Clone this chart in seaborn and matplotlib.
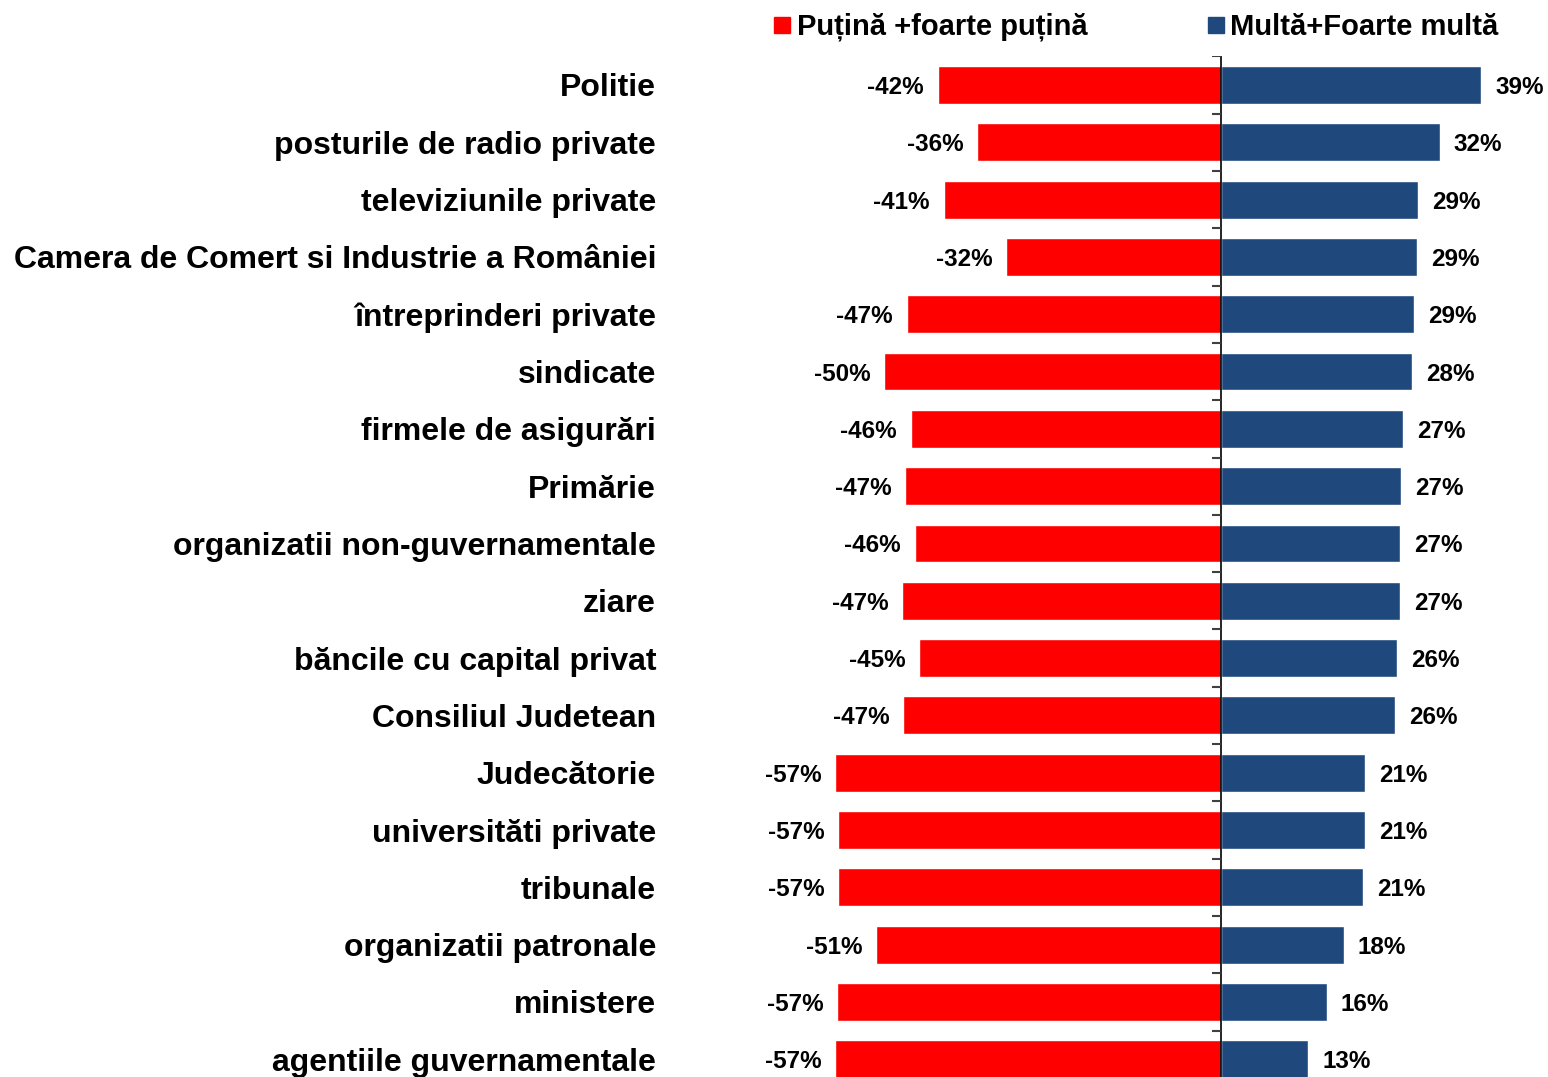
import numpy as np
import pandas as pd
import matplotlib
matplotlib.use("Agg")
import matplotlib.pyplot as plt
from matplotlib.lines import Line2D
import seaborn as sns

# Trust in institutions: share answering little vs. much
categories = [
    "Politie", "posturile de radio private", "televiziunile private",
    "Camera de Comert si Industrie a României", "întreprinderi private",
    "sindicate", "firmele de asigurări", "Primărie",
    "organizatii non-guvernamentale", "ziare", "băncile cu capital privat",
    "Consiliul Judetean", "Judecătorie", "universităti private", "tribunale",
    "organizatii patronale", "ministere", "agentiile guvernamentale",
]
putina = [-42.1, -36.2, -41.2, -31.9, -46.7, -50.0, -46.1, -46.9, -45.5,
          -47.3, -44.8, -47.2, -57.3, -56.8, -56.8, -51.2, -57.0, -57.3]
multa = [38.6, 32.4, 29.2, 29.1, 28.6, 28.3, 27.0, 26.7, 26.6,
         26.6, 26.1, 25.8, 21.4, 21.4, 21.1, 18.2, 15.7, 12.9]
series = ["Puțină +foarte puțină", "Multă+Foarte multă"]
colors = ["#FF0000", "#1F497D"]

df = pd.concat([
    pd.DataFrame({"cat": categories, "val": putina, "serie": series[0]}),
    pd.DataFrame({"cat": categories, "val": multa, "serie": series[1]}),
])

sns.set_style("white")
plt.rcParams["font.family"] = ["Liberation Sans", "DejaVu Sans"]
plt.rcParams["font.weight"] = "bold"
plt.rcParams["text.color"] = "black"
plt.rcParams["ytick.color"] = "black"
plt.rcParams["ytick.labelcolor"] = "black"

fig = plt.figure(figsize=(15.48, 10.77), dpi=100)
ax = fig.add_axes([763 / 1548, 0, 1 - 763 / 1548, 1021 / 1077])

sns.barplot(data=df, y="cat", x="val", hue="serie", order=categories,
            hue_order=series, palette=colors, dodge=False, width=0.66,
            orient="h", ax=ax, legend=False, saturation=1)

for cont, vals in zip(ax.containers, [putina, multa]):
    labs = ax.bar_label(cont, labels=[f"{v:.0f}%" for v in vals], padding=10,
                        fontsize=17.5, fontweight="bold", color="black")
    for t in labs:
        t.set_va("center_baseline")

n = len(categories)
ax.set_xlim(-68, 48.5)
ax.set_ylim(n - 0.69, -0.506)
ax.axvline(0, color="black", lw=1.2)
ax.hlines(np.arange(n) - 0.5, -1.3, 0, color="#404040", lw=1.5)

for s in ax.spines.values():
    s.set_visible(False)
ax.set_xticks([])
ax.set_xlabel("")
ax.set_ylabel("")
ax.tick_params(axis="y", length=0, pad=77)
for t in ax.get_yticklabels():
    t.set_fontsize(23)
    t.set_fontweight("bold")
    t.set_color("black")

handles = [Line2D([], [], marker="s", ls="", color=c, markersize=11) for c in colors]
fig.legend(handles, series, loc="center", bbox_to_anchor=(1136 / 1548, 1 - 27 / 1077),
           ncol=2, frameon=False, handlelength=0.6, handletextpad=0.2,
           columnspacing=4.1, prop={"weight": "bold", "size": 21})

fig.savefig("out.png", dpi=100)
